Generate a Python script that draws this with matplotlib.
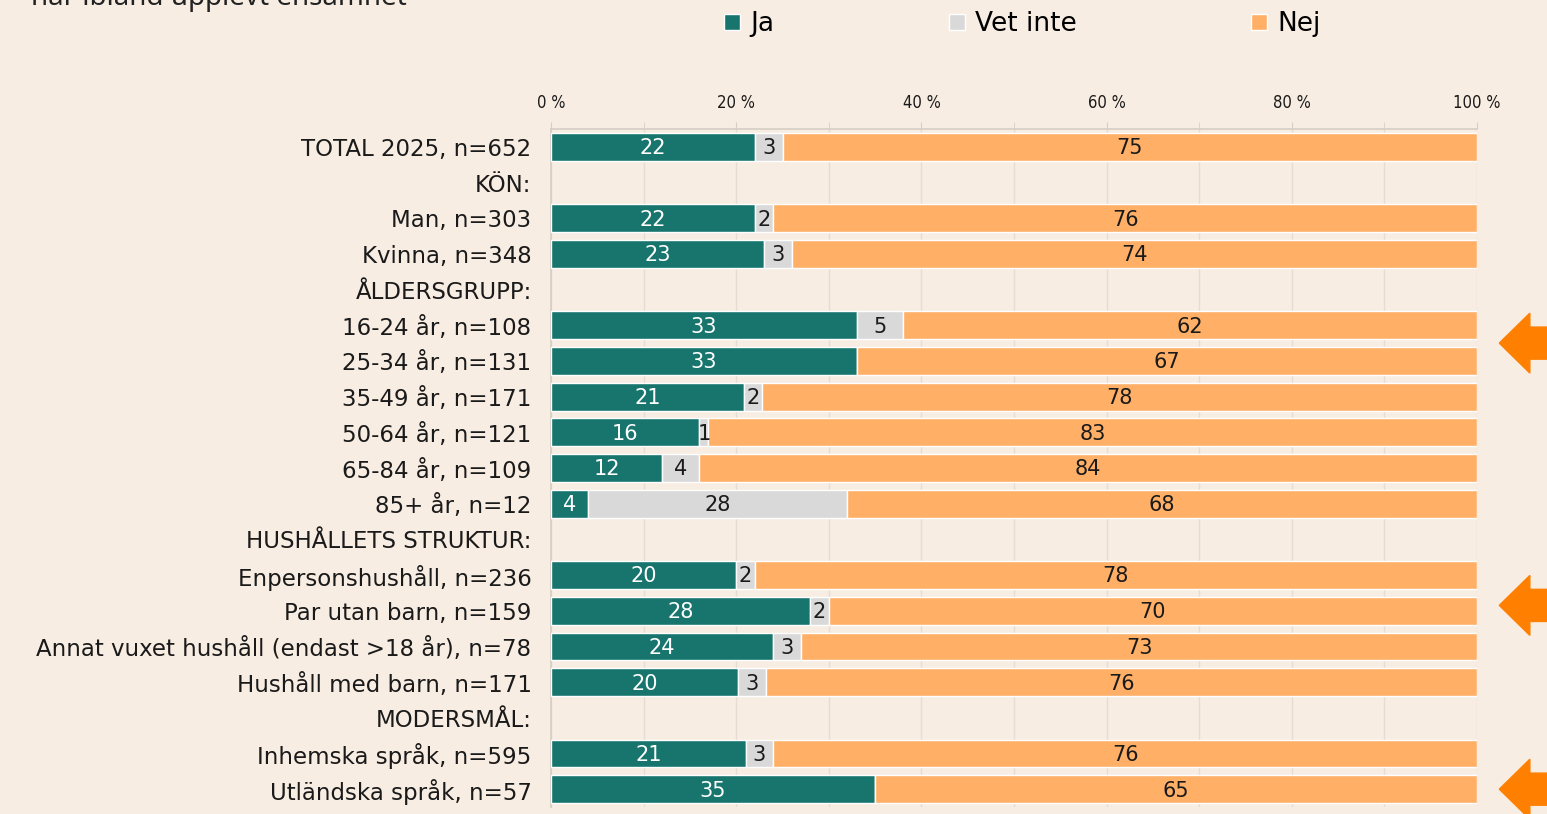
import matplotlib.pyplot as plt
from matplotlib.patches import Polygon

# rows from top to bottom; header rows have no values
labels = ["TOTAL 2025, n=652", "KÖN:", "Man, n=303", "Kvinna, n=348",
          "ÅLDERSGRUPP:", "16-24 år, n=108", "25-34 år, n=131", "35-49 år, n=171",
          "50-64 år, n=121", "65-84 år, n=109", "85+ år, n=12",
          "HUSHÅLLETS STRUKTUR:", "Enpersonshushåll, n=236", "Par utan barn, n=159",
          "Annat vuxet hushåll (endast >18 år), n=78", "Hushåll med barn, n=171",
          "MODERSMÅL:", "Inhemska språk, n=595", "Utländska språk, n=57"]
ja      = [22, None, 22, 23, None, 33, 33, 21, 16, 12, 4, None, 20, 28, 24, 20, None, 21, 35]
vetinte = [3, None, 2, 3, None, 5, 0, 2, 1, 4, 28, None, 2, 2, 3, 3, None, 3, 0]
nej     = [75, None, 76, 74, None, 62, 67, 78, 83, 84, 68, None, 78, 70, 73, 76, None, 76, 65]
series_names = ["Ja", "Vet inte", "Nej"]
ticks = [0, 20, 40, 60, 80, 100]
highlight = [5.5, 12.85, 18]  # arrow positions (row index)

bg = "#F8EDE3"
colors = ["#17756E", "#D9D9D9", "#FFAF66"]
txt_colors = ["white", "#1a1a1a", "#1a1a1a"]
font = "DejaVu Sans"

fig = plt.figure(figsize=(15.47, 8.14), dpi=100, facecolor=bg)
ax = fig.add_axes([0.3562, 0.0086, 0.5986, 0.8329], facecolor=bg)

rows = list(range(len(labels)))
# 100 % stacked: scale each row by its total
totals = [None if a is None else a + b + c for a, b, c in zip(ja, vetinte, nej)]
left = [0] * len(labels)
for vals, col, tc, name in zip([ja, vetinte, nej], colors, txt_colors, series_names):
    for i, v in enumerate(vals):
        if v is None:
            continue
        w = v * 100 / totals[i]
        ax.barh(i, w, left=left[i], height=0.78, color=col, edgecolor="white",
                linewidth=1, zorder=3, label=name if i == 0 else None)
        if v > 0:
            ax.text(left[i] + w / 2, i + 0.04, str(v), ha="center", va="center",
                    color=tc, fontsize=15, family=font, zorder=4)
        left[i] += w

ax.set_xlim(0, 100)
ax.set_ylim(len(labels) - 0.5, -0.5)
ax.set_yticks(rows)
ax.set_yticklabels(labels, fontsize=16.5, family=font, color="#1a1a1a")
ax.tick_params(axis="y", length=0, pad=14)
ax.xaxis.tick_top()
ax.set_xticks(ticks)
ax.set_xticklabels([f"{t} %" for t in ticks], fontsize=12, family=font,
                   color="#1a1a1a", stretch="condensed")
ax.set_xticks(range(0, 101, 10), minor=True)
ax.tick_params(axis="x", which="both", length=5, color="#D5CEC6", pad=7)
ax.grid(axis="x", which="both", color="#E3DDD5", linewidth=1, zorder=0)
for s in ["right", "bottom"]:
    ax.spines[s].set_visible(False)
for s in ["top", "left"]:
    ax.spines[s].set_color("#D5CEC6")
    ax.spines[s].set_linewidth(1.2)

# legend
handles, hl = ax.get_legend_handles_labels()
fig.legend(handles, hl, loc="center", bbox_to_anchor=(0.661, 0.970), ncol=3,
           frameon=False, handlelength=0.6, handleheight=0.6, handletextpad=0.4,
           columnspacing=6.6, prop={"family": font, "size": 19})

# highlight arrows at right edge
for r in highlight:
    pts = [(102.4, r), (105.7, r - 0.84), (105.7, r - 0.45), (112, r - 0.45),
           (112, r + 0.45), (105.7, r + 0.45), (105.7, r + 0.84)]
    ax.add_patch(Polygon(pts, closed=True, color="#FF8000", clip_on=False, zorder=5))

# title, cut off at the top as in the original
fig.text(0.02, 0.9939, "har ibland upplevt ensamhet", fontsize=20, family="Noto Sans",
         color="#222222", va="baseline", ha="left")

fig.savefig("out.png", dpi=100, facecolor=bg)
